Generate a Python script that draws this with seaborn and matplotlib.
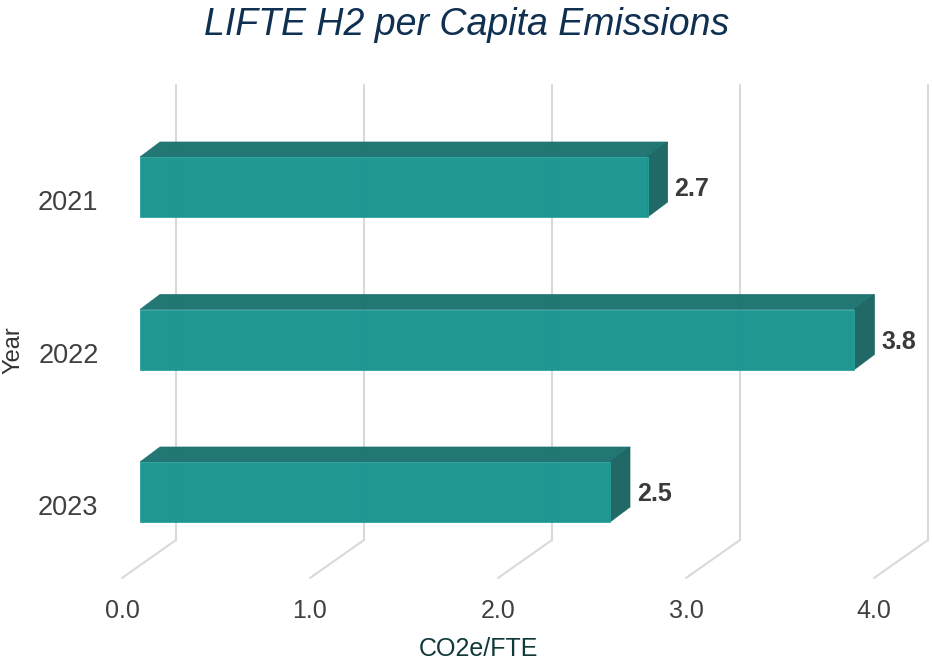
import numpy as np
import pandas as pd
import seaborn as sns
import matplotlib.pyplot as plt
from matplotlib.patches import Polygon

# chart data
years = ['2021', '2022', '2023']
emissions = [2.7, 3.8, 2.5]
x_ticks = [0.0, 1.0, 2.0, 3.0, 4.0]
x_tick_labels = ['0.0', '1.0', '2.0', '3.0', '4.0']

df = pd.DataFrame({'Year': years, 'CO2e/FTE': emissions})

sns.set_style('white')
plt.rcParams['font.family'] = ['Liberation Sans', 'DejaVu Sans']

FRONT = '#19948f'
TOP = '#1b7371'
SIDE = '#196462'
GRID = '#d9d9d9'

fig = plt.figure(figsize=(9.33, 6.67), dpi=100)
# axes spans pixel x 100..933, y 80..580
ax = fig.add_axes([100 / 933, 1 - 580 / 667, 833 / 933, 500 / 667])

# pixel scales of the data units
PX_X = 188.0   # px per value unit
PX_Y = 152.5   # px per category

def px_dx(p):
    return p / PX_X

def px_dy(p):
    return p / PX_Y

# oblique depth (in px) from bar front face to back face / back wall / front floor edge
bar_dx, bar_dy = 20, 15
wall_dx, wall_dy = 36, 25
front_dx, front_dy = -18, 13

# grid: back wall verticals + floor slants
top_y = px_dy(85 - 187)
floor_back = px_dy(540 - 187)
floor_front = px_dy(578 - 187)
for v in x_ticks:
    xb = v + px_dx(wall_dx)
    xf = v + px_dx(front_dx)
    ax.plot([xb, xb], [top_y, floor_back], color=GRID, lw=1.5, zorder=0)
    ax.plot([xb, xf], [floor_back, floor_front], color=GRID, lw=1.5, zorder=0)

sns.barplot(data=df, x='CO2e/FTE', y='Year', orient='h', color=FRONT,
            width=60 / PX_Y, saturation=1, alpha=0.97, ax=ax, zorder=3,
            edgecolor='#28a39d', linewidth=0.6)

ddx, ddy = px_dx(bar_dx), px_dy(bar_dy)
for p in list(ax.patches):
    x0, y0 = p.get_x(), p.get_y()
    w, h = p.get_width(), p.get_height()
    top = Polygon([(x0, y0), (x0 + ddx, y0 - ddy), (x0 + w + ddx, y0 - ddy), (x0 + w, y0)],
                  closed=True, facecolor=TOP, edgecolor=TOP, lw=0.5, alpha=0.97, zorder=2)
    side = Polygon([(x0 + w, y0), (x0 + w + ddx, y0 - ddy), (x0 + w + ddx, y0 + h - ddy), (x0 + w, y0 + h)],
                   closed=True, facecolor=SIDE, edgecolor=SIDE, lw=0.5, alpha=0.97, zorder=2)
    ax.add_patch(top)
    ax.add_patch(side)

for i, v in enumerate(emissions):
    ax.text(v + px_dx(27), i + px_dy(2), f'{v:.1f}', ha='left', va='center',
            fontsize=18, fontweight='bold', color='#3a3a3a')

# limits after seaborn, which resets the categorical axis
ax.set_xlim(px_dx(100 - 140), px_dx(933 - 140))
ax.set_ylim(px_dy(580 - 187), px_dy(80 - 187))

# ticks on the front plane
ax.set_xticks([v + px_dx(front_dx) for v in x_ticks])
ax.set_xticklabels(x_tick_labels, fontsize=18, color='#404040')
ax.set_yticks([i + px_dy(front_dy) for i in range(len(years))])
ax.set_yticklabels(years, fontsize=19.5, color='#404040')
ax.tick_params(axis='x', length=0, pad=14)
ax.tick_params(axis='y', length=0, pad=1)

ax.set_xlabel('CO2e/FTE', fontsize=18, color='#10393a')
ax.xaxis.set_label_coords((478 - 100) / 833, -0.115)
ax.set_ylabel('Year', fontsize=17, color='#333333')
ax.yaxis.set_label_coords(-0.091, 0.46)

sns.despine(ax=ax, left=True, bottom=True)
ax.grid(False)

fig.suptitle('LIFTE H2 per Capita Emissions', fontsize=27, style='italic',
             color='#0f3050', x=0.5, y=0.99)

fig.savefig('out.png', dpi=100)
